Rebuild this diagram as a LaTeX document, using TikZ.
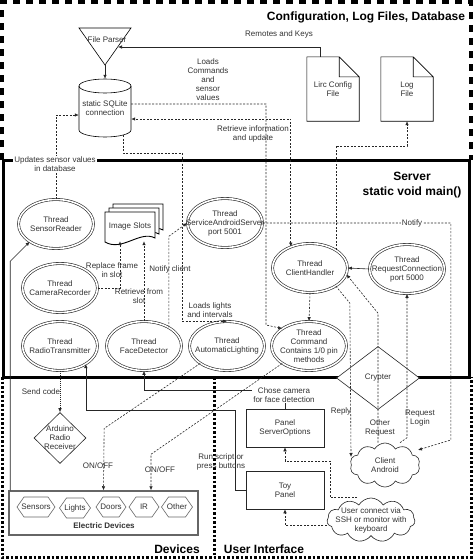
\documentclass[tikz,border=0pt]{standalone}
\usepackage{fontspec}
\setmainfont{Liberation Sans}
\usepackage{tikz}
\usetikzlibrary{
  positioning,
  calc,
  arrows.meta,
  shapes.geometric,
  shapes.symbols
}

\tikzset{
  lbl/.style={font=\fontsize{8}{9}\selectfont, align=center, text=black!80, inner sep=1pt},
  ttl/.style={font=\fontsize{12}{15}\selectfont\bfseries, align=center, inner sep=0pt},
  thread/.style={lbl, ellipse, draw=black!85, double, double distance=1.6pt, line width=0.6pt,
    fill=white, minimum width=75, minimum height=49, inner xsep=-14pt, inner ysep=-2pt},
  panel/.style={lbl, draw=black!85, line width=0.6pt, minimum width=78, minimum height=38},
  dev/.style={lbl, signal, signal to=west and east, signal pointer angle=110, draw=black!60,
    line width=0.6pt, minimum height=20, inner xsep=-5pt, inner ysep=0pt},
  conn/.style={line width=0.6pt, draw=black!85, ->},
  dconn/.style={conn, dash pattern=on 2pt off 1.5pt},
  cfgframe/.style={line width=4pt, dash pattern=on 7pt off 6pt},
  lowframe/.style={line width=3pt, dash pattern=on 2.5pt off 2pt}
}

\begin{document}
\begin{tikzpicture}[x=1pt, y=-1pt, >={Latex[length=4pt,width=3.5pt]}]
  \fill[white] (0,0) rectangle (474,560);
  \useasboundingbox (0,0) rectangle (474,560);

  % Frames
  \draw[cfgframe] (2,160) -- (2,2) -- (471,2) -- (471,160);
  \draw[lowframe] (2,377) -- (2,557) -- (471,557) -- (471,377);
  \draw[lowframe] (214,377) -- (214,557);
  \draw[line width=3pt] (3,160) rectangle (469,377);

  \node[ttl] (cfgttl) at (366,17) {Configuration, Log Files, Database};
  \node[ttl] (srvttl) at (412,185) {Server\\static void main()};
  \node[ttl] (devttl) at (177,549) {Devices};
  \node[ttl] (uittl) at (264,549) {User Interface};

  % Configuration, log files, database
  \draw[line width=0.6pt] (79,28) -- (131,28) -- (105,65) -- cycle;
  \node[lbl] (parser) at (107,40) {File Parser};
  \coordinate (parser tip) at (105,65);
  \coordinate (parser side) at (118,47);

  \draw[line width=0.6pt, fill=white] (79,86) -- (79,130)
    arc[start angle=180, end angle=360, x radius=26pt, y radius=7pt] -- (131,86)
    arc[start angle=0, end angle=180, x radius=26pt, y radius=7pt] -- cycle;
  \draw[line width=0.6pt] (79,86) arc[start angle=180, end angle=360, x radius=26pt, y radius=7pt];
  \node[lbl, minimum width=52, minimum height=58, inner sep=0] (db) at (105,108) {static SQLite\\connection};

  \node[lbl, minimum width=52, minimum height=64, inner sep=0] (lirc) at (333,89) {Lirc Config\\File};
  \draw[line width=0.6pt] (lirc.north west) -- ([xshift=-20pt]lirc.north east) -- ([yshift=-20pt]lirc.north east)
    -- (lirc.south east) -- (lirc.south west) -- cycle
    ([xshift=-20pt]lirc.north east) |- ([yshift=-20pt]lirc.north east);
  \node[lbl, minimum width=52, minimum height=64, inner sep=0] (log) at (407,89) {Log\\File};
  \draw[line width=0.6pt] (log.north west) -- ([xshift=-20pt]log.north east) -- ([yshift=-20pt]log.north east)
    -- (log.south east) -- (log.south west) -- cycle
    ([xshift=-20pt]log.north east) |- ([yshift=-20pt]log.north east);

  % Crypter sits on the server border
  \node[lbl, diamond, draw=black!85, line width=0.6pt, fill=white, minimum width=83, minimum height=63,
    inner sep=0] (cry) at (378,378) {Crypter};

  % Image slots
  \draw[line width=0.9pt, fill=white] (113,204) -- (163,204) -- (163,230)
    .. controls (148,222) and (130,244) .. (113,234) -- cycle;
  \draw[line width=0.9pt, fill=white] (109,208) -- (159,208) -- (159,234)
    .. controls (144,226) and (126,248) .. (109,238) -- cycle;
  \draw[line width=0.9pt, fill=white] (105,212) -- (155,212) -- (155,238)
    .. controls (140,230) and (122,252) .. (105,242) -- cycle;
  \node[lbl, minimum width=50, minimum height=30, inner sep=0] (slots) at (130,226) {Image Slots};

  % Threads
  \node[thread] (sensor) at (56,224) {Thread\\SensorReader};
  \node[thread] (cam) at (60,288) {Thread\\CameraRecorder};
  \node[thread] (radio) at (60,346) {Thread\\RadioTransmitter};
  \node[thread] (face) at (144,346) {Thread\\FaceDetector};
  \node[thread] (auto) at (227,346) {Thread\\AutomaticLighting};
  \node[thread] (srv) at (225,223) {Thread\\ServiceAndroidServer\\port 5001};
  \node[thread] (ch) at (310,268) {Thread\\ClientHandler};
  \node[thread] (req) at (407,269) {Thread\\RequestConnection\\port 5000};
  \node[thread] (cmd) at (309,346) {Thread\\Command\\Contains 1/0 pin\\methods};

  % Devices
  \node[lbl, diamond, draw=black!85, line width=0.6pt, minimum width=52, minimum height=51,
    inner sep=-3pt] (ard) at (60,438) {Arduino\\Radio\\Receiver};
  \node[draw=black!60, line width=1.5pt, minimum width=189, minimum height=44, inner sep=0] (elec) at (103.5,513) {};
  \node[dev, minimum width=38] (sens) at (36,507) {Sensors};
  \node[dev, minimum width=31] (light) at (75,508) {Lights};
  \node[dev, minimum width=30] (door) at (111,507) {Doors};
  \node[dev, minimum width=30] (ir) at (144,507) {IR};
  \node[dev, minimum width=31] (other) at (177,507) {Other};
  \node[lbl, font=\fontsize{8}{9}\selectfont\bfseries] (eleclbl) at (104,526) {Electric Devices};

  % User interface
  \node[panel] (so) at (285,428) {Panel\\ServerOptions};
  \node[panel] (toy) at (285,490) {Toy\\Panel};
  \node[lbl, cloud, cloud puffs=10, cloud puff arc=120, aspect=1.6, draw=black!85, line width=0.6pt,
    minimum width=70, minimum height=44, inner xsep=-6pt, inner ysep=-4pt] (ca) at (385,465) {Client\\Android};
  \node[lbl, cloud, cloud puffs=11, cloud puff arc=120, aspect=2, draw=black!85, line width=0.6pt,
    minimum width=88, minimum height=44, inner xsep=-14pt, inner ysep=-6pt] (user) at (371,520)
    {User connect via\\SSH or monitor with\\keyboard};

  % Connectors
  \draw[conn] (parser tip) -- (db.north);
  \draw[conn] ([xshift=-13pt]lirc.north) |- (parser side);
  \draw[dconn] (ch.35) -- ++(0,-104) -| (log.south);
  \draw[dconn, <->] (ch.132) |- ([yshift=-11pt]db.east);
  \draw[dconn] ([yshift=4pt]db.east) -| (266,325) -- (cmd.147);
  \draw[dconn] ([xshift=18pt,yshift=2pt]db.south) |- (182,153) |- (auto.north);
  \draw[dconn] (sensor.north) |- ([yshift=-7pt]db.west);
  \draw[dconn] (face.37) -- ++(0,-91) -- (srv.west);
  \draw[dconn] (cam.east) -| ([xshift=-10pt]slots.south);
  \draw[dconn] (face.north) -- (face.north |- slots.south);
  \draw[dconn] (srv.east) -- ++(188,0) -- ++(0,217) -- ([xshift=-1pt,yshift=15pt]ca.east);
  \draw[dconn] (ch.south) -- (cmd.north);
  \draw[conn] (req.west) -- (ch.east);
  \draw[dconn] (ch.-35) -- ++(14,17) -- ([yshift=8pt]ca.west);
  \draw[dconn] (cry.south |- ca.north) -- (cry.north) -- ++(0,-33) -- (ch.-10);
  \draw[dconn] ([xshift=15pt]ca.north) -- ++(7,-5) -- (req.south);
  \draw[conn] (so.north) -- ++(0,-18) -| (face.south);
  \draw[conn] (toy.west) -| (235,410) -| (radio.-35);
  \draw[conn] ([xshift=2pt]elec.north west) -- ++(0,-229) -- (sensor.214);
  \draw[conn, dash pattern=on 1pt off 1pt] (radio.south) -- (ard.north);
  \draw[dconn] (auto.213) -- ++(-96,65) -- (elec.north);
  \draw[dconn] (cmd.213) -- ([xshift=47.5pt,yshift=36pt]elec.north) -- ([xshift=47.5pt]elec.north);
  \draw[dconn] ([xshift=-14pt]user.north) -| (330,461) -| (so.south);
  \draw[dconn] ([yshift=-5pt]user.west) -| (toy.south);

  % Labels
  \node[lbl] (remlbl) at (279,34) {Remotes and Keys};
  \node[lbl] (cmdlbl) at (208,80) {Loads\\Commands\\and\\sensor\\values};
  \node[lbl] (retlbl) at (253,134) {Retrieve information\\and update};
  \node[lbl, fill=white] (updlbl) at (55,164) {Updates sensor values\\in database};
  \node[lbl] (replbl) at (112,270) {Replace frame\\in slot};
  \node[lbl] (ntclbl) at (170,269) {Notify client};
  \node[lbl] (slotlbl) at (139,296) {Retrieve from\\slot};
  \node[lbl] (lightlbl) at (210,310) {Loads lights\\and intervals};
  \node[lbl, fill=white] (ntflbl) at (412,223) {Notify};
  \node[lbl] (sendlbl) at (41,392) {Send code};
  \node[lbl] (onlbl) at (98,466) {ON/OFF};
  \node[lbl] (onlblb) at (160,470) {ON/OFF};
  \node[lbl, fill=white] (camlbl) at (284,395) {Chose camera\\for face detection};
  \node[lbl] (runlbl) at (221,462) {Run script or\\press buttons};
  \node[lbl] (replylbl) at (341,411) {Reply};
  \node[lbl] (otherlbl) at (380,428) {Other\\Request};
  \node[lbl] (loginlbl) at (420,418) {Request\\Login};
\end{tikzpicture}
\end{document}
